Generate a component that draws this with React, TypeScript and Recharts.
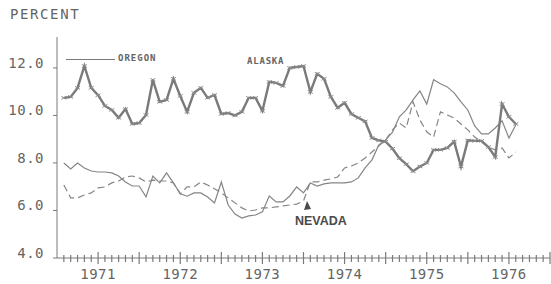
import React from "react";
import { LineChart, Line, XAxis, YAxis, Customized } from "recharts";

// monthly unemployment rates, Jan 1971 - Jul 1976
const START_YEAR = 1971;
const YEARS = ["1971", "1972", "1973", "1974", "1975", "1976"];
const Y_TICKS = [4, 6, 8, 10, 12];

const alaska = [
  10.74, 10.78, 11.16, 12.08, 11.16, 10.85, 10.4, 10.23, 9.9, 10.27, 9.64, 9.68,
  10.02, 11.5, 10.57, 10.65, 11.54, 10.82, 10.15, 10.95, 11.16, 10.74, 10.86, 10.06,
  10.1, 10.0, 10.15, 10.74, 10.74, 10.19, 11.41, 11.37, 11.24, 12.0, 12.04, 12.08,
  10.99, 11.75, 11.54, 10.78, 10.32, 10.53, 10.06, 9.9, 9.75, 9.05, 8.95, 8.9,
  8.6, 8.2, 7.95, 7.65, 7.85, 8.0, 8.55, 8.55, 8.63, 8.9, 7.85, 8.95,
  8.93, 8.93, 8.67, 8.25, 10.48, 9.94, 9.64,
];

const oregon = [
  8.0, 7.75, 8.0, 7.79, 7.66, 7.62, 7.62, 7.58, 7.45, 7.2, 7.03, 7.03,
  6.57, 7.45, 7.16, 7.58, 7.16, 6.7, 6.6, 6.74, 6.74, 6.57, 6.32, 7.2,
  6.23, 5.85, 5.68, 5.77, 5.81, 5.94, 6.61, 6.36, 6.36, 6.61, 6.99, 6.74,
  7.16, 7.03, 7.12, 7.16, 7.16, 7.16, 7.2, 7.37, 7.79, 8.13, 8.76, 8.97,
  9.3, 9.94, 10.23, 10.65, 11.03, 10.48, 11.5, 11.33, 11.2, 10.95, 10.57, 10.23,
  9.56, 9.22, 9.22, 9.47, 9.77, 9.05, 9.6,
];

const nevada = [
  7.07, 6.53, 6.53, 6.65, 6.74, 6.95, 6.99, 7.16, 7.24, 7.41, 7.45, 7.37,
  7.2, 7.28, 7.24, 7.24, 7.16, 6.7, 6.99, 6.99, 7.2, 7.07, 6.91, 6.74,
  6.53, 6.32, 6.11, 5.98, 6.02, 6.11, 6.11, 6.15, 6.19, 6.23, 6.27, 6.4,
  7.2, 7.2, 7.28, 7.33, 7.41, 7.79, 7.87, 8.0, 8.21, 8.46, 8.72, 8.97,
  9.39, 9.68, 9.47, 10.57, 9.81, 9.31, 9.09, 10.15, 10.02, 9.89, 9.64, 9.39,
  9.09, 8.88, 8.67, 8.55, 8.63, 8.21, 8.46,
];

const data = alaska.map((v, i) => ({
  t: START_YEAR + (i + 1) / 12,
  alaska: v,
  oregon: oregon[i],
  nevada: nevada[i],
}));

const monthTicks = Array.from({ length: 72 }, (_, k) => START_YEAR + (k + 1) / 12);

const GRAY = "#7a7a7a";
const TEXT = "#646464";
const MONO = "'DejaVu Sans Mono', monospace";

const MonthTick = (props: any) => {
  const { x, y, payload } = props;
  const k = Math.round((payload.value - START_YEAR) * 12);
  const long = k % 6 === 0;
  const label = k % 12 === 6 ? YEARS[(k - 6) / 12] : null;
  return (
    <g>
      <line x1={x} x2={x} y1={y - (long ? 6 : 3)} y2={y + (long ? 6 : 4)} stroke={GRAY} strokeWidth={1.2} />
      {label && (
        <text x={x} y={y + 21} textAnchor="middle" fontFamily={MONO} fontSize={14} letterSpacing={0.5} fill={TEXT}>
          {label}
        </text>
      )}
    </g>
  );
};

const ValueTick = (props: any) => {
  const { x, y, payload } = props;
  return (
    <g>
      <line x1={x - 4} x2={x} y1={y} y2={y} stroke={GRAY} />
      <text x={x - 13} y={y} textAnchor="end" fontFamily={MONO} fontSize={14} letterSpacing={0.5} fill={TEXT}>
        {payload.value.toFixed(1)}
      </text>
    </g>
  );
};

const Hair = (props: any) => {
  const { cx, cy } = props;
  if (cx == null || cy == null) return null;
  return (
    <path
      d={`M${cx - 2.5},${cy - 1.5}L${cx + 2.5},${cy + 1.5}M${cx - 2.5},${cy + 1.5}L${cx + 2.5},${cy - 1.5}`}
      stroke="#8a8a8a"
      strokeWidth={1}
    />
  );
};

const Notes = () => (
  <g>
    <text x={10} y={19} fontFamily={MONO} fontSize={14} letterSpacing={1.6} fill={TEXT}>
      PERCENT
    </text>
    <line x1={66} y1={59.5} x2={115} y2={59.5} stroke={GRAY} />
    <text x={118} y={61} fontFamily={MONO} fontSize={9} letterSpacing={1} fontWeight="bold" fill={TEXT}>
      OREGON
    </text>
    <text x={247} y={64} fontFamily={MONO} fontSize={9} letterSpacing={0.8} fontWeight="bold" fill={TEXT}>
      ALASKA
    </text>
    <text x={295} y={225} fontFamily="'Liberation Sans', Arial, sans-serif" fontSize={12.5} fontWeight="bold" fill="#4a4a4a">
      NEVADA
    </text>
    <path d="M307,201 L304,210 L311,209 Z" fill="#4a4a4a" />
  </g>
);

export default function App() {
  return (
    <div style={{ position: "absolute", left: 0, top: 0, background: "#fff" }}>
      <LineChart width={551} height={284} data={data} margin={{ top: 37, right: 1, bottom: 6, left: 0 }}>
        <XAxis
          dataKey="t"
          type="number"
          domain={[1971, 1977]}
          ticks={monthTicks}
          interval={0}
          tick={<MonthTick />}
          tickLine={false}
          tickSize={0}
          tickMargin={0}
          height={20}
          stroke={GRAY}
          allowDataOverflow
        />
        <YAxis
          type="number"
          domain={[4, 13.3]}
          ticks={Y_TICKS}
          interval={0}
          tick={<ValueTick />}
          tickLine={false}
          tickSize={0}
          tickMargin={0}
          width={57}
          stroke={GRAY}
          allowDataOverflow
        />
        <Line
          dataKey="oregon"
          type="linear"
          stroke="#858585"
          strokeWidth={1.2}
          dot={false}
          isAnimationActive={false}
        />
        <Line
          dataKey="nevada"
          type="linear"
          stroke="#858585"
          strokeWidth={1.2}
          strokeDasharray="7 4"
          dot={false}
          isAnimationActive={false}
        />
        <Line
          dataKey="alaska"
          type="linear"
          stroke={GRAY}
          strokeWidth={2.4}
          dot={<Hair />}
          isAnimationActive={false}
        />
        <Customized component={Notes} />
      </LineChart>
    </div>
  );
}
